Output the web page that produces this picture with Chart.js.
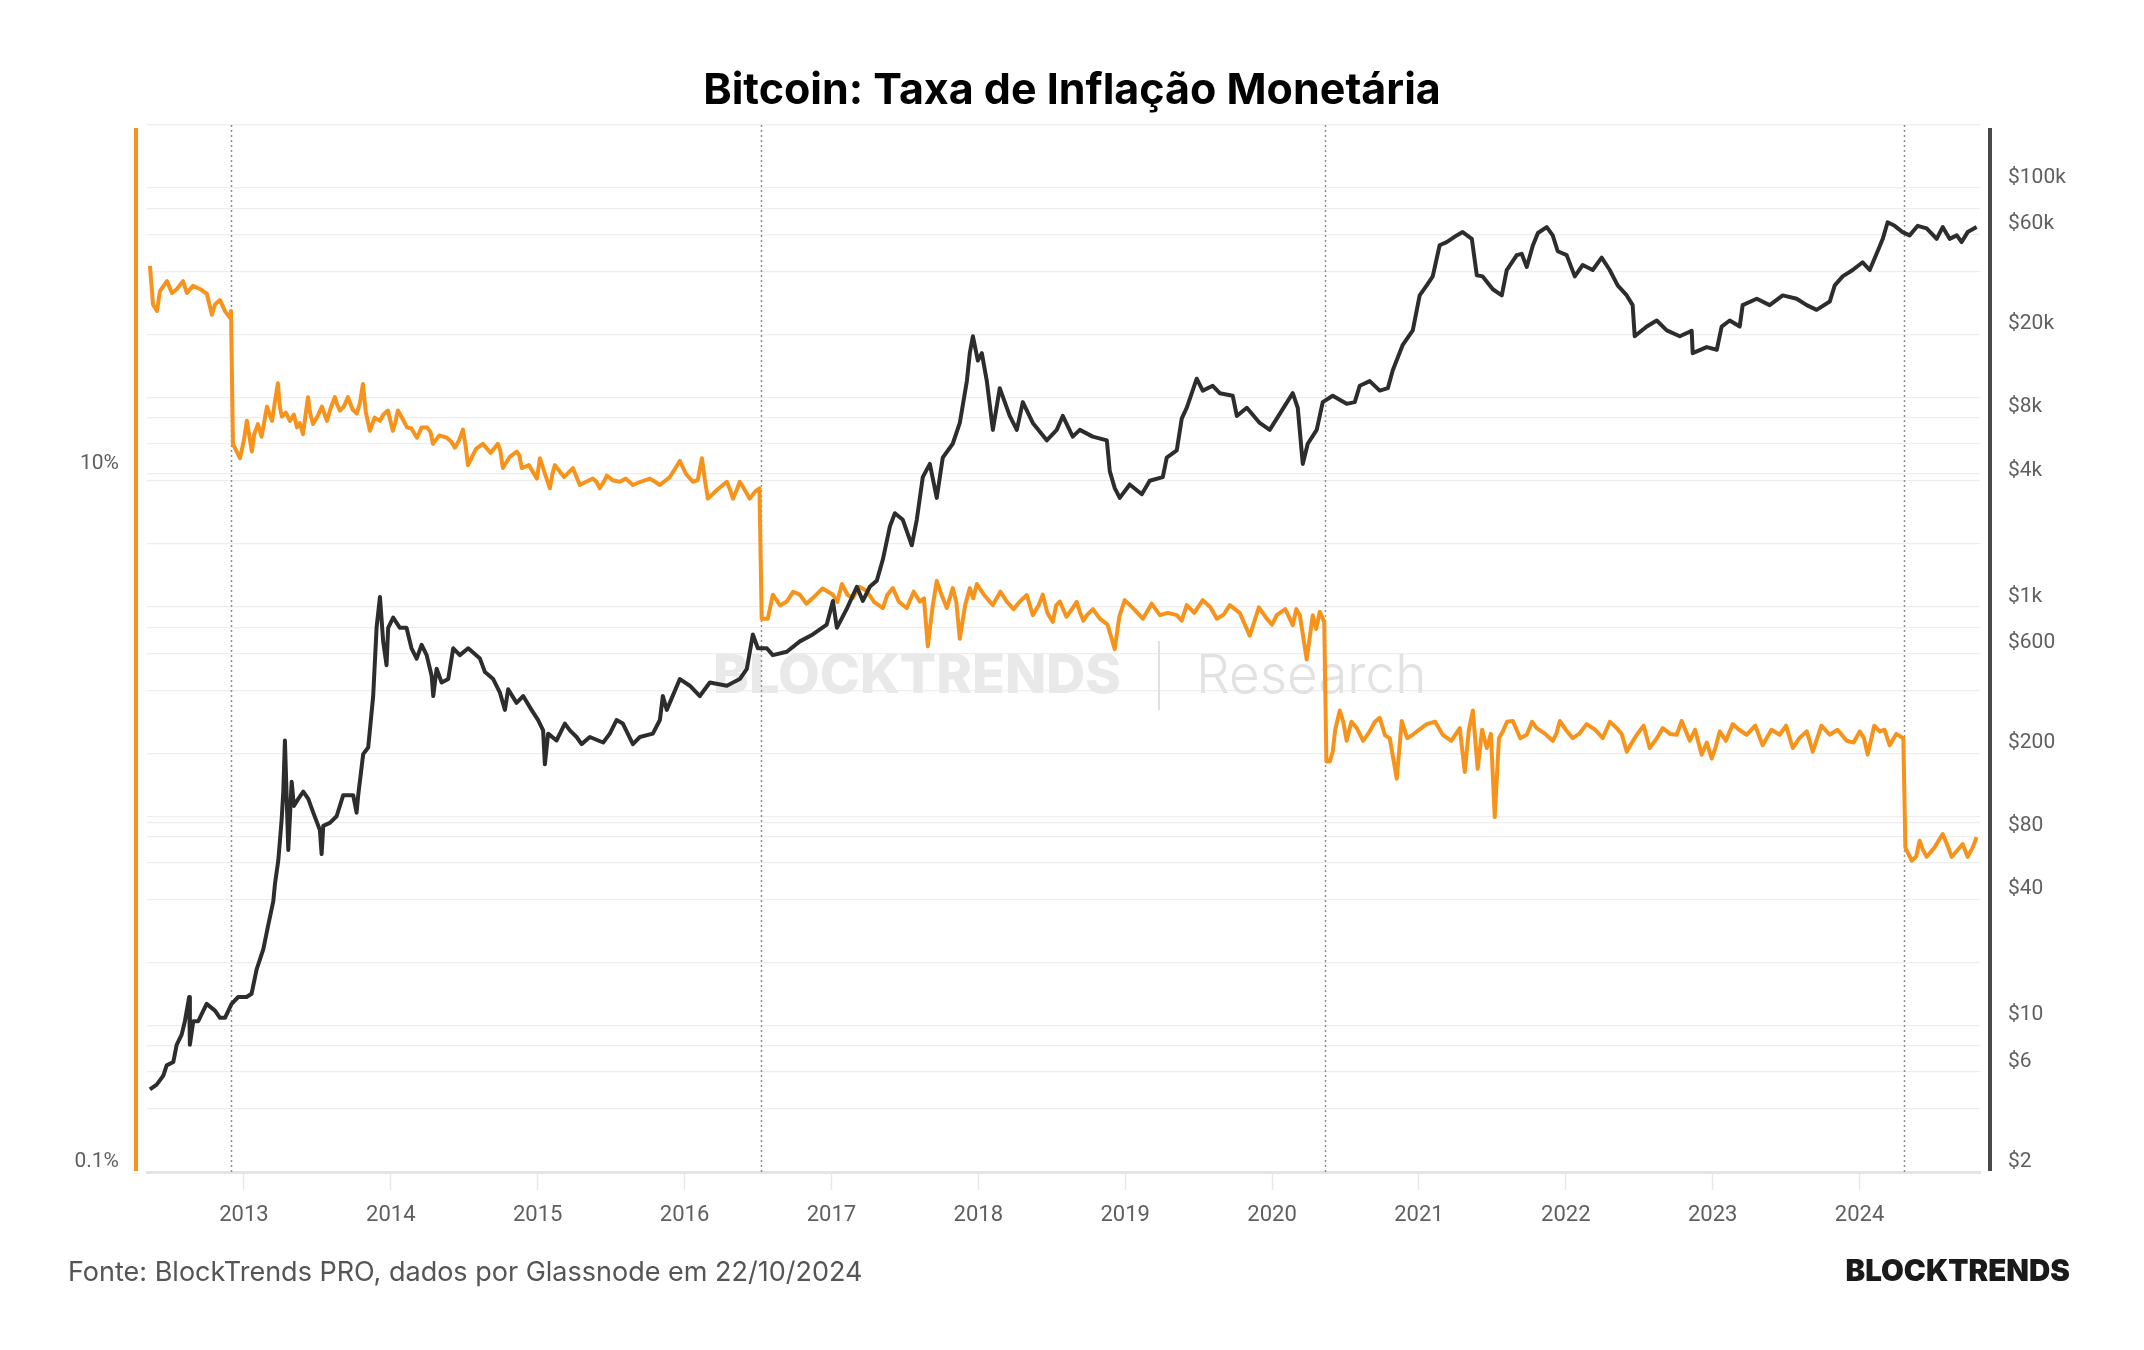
<!DOCTYPE html>
<html>
<head>
<meta charset="utf-8">
<script src="https://cdn.jsdelivr.net/npm/chart.js@4.4.1/dist/chart.umd.min.js"></script>
<style>
html,body{margin:0;padding:0;background:#fff;}
canvas{display:block;}
</style>
</head>
<body>
<canvas id="c" width="2144" height="1350" style="width:2144px;height:1350px"></canvas>
<script>
// ---------- DATA ----------
const chartTitle = 'Bitcoin: Taxa de Inflação Monetária';
const sourceText = 'Fonte: BlockTrends PRO, dados por Glassnode em 22/10/2024';
const brandText = 'BLOCKTRENDS';

// BTC price (USD), dates as decimal years
const priceYears = [
  2012.360, 2012.406, 2012.451, 2012.474, 2012.519, 2012.542, 2012.576, 2012.598, 2012.627, 2012.632, 2012.655, 2012.689, 2012.746, 2012.803, 2012.837, 2012.871, 2012.916, 2012.961,
  2013.018, 2013.052, 2013.086, 2013.132, 2013.165, 2013.200, 2013.211, 2013.234, 2013.257, 2013.268, 2013.279, 2013.302, 2013.325, 2013.340, 2013.370, 2013.404, 2013.438, 2013.472, 2013.517, 2013.529, 2013.540, 2013.585, 2013.631, 2013.676, 2013.744, 2013.767, 2013.778, 2013.812, 2013.846, 2013.880, 2013.903, 2013.926, 2013.948, 2013.971, 2013.982,
  2014.016, 2014.062, 2014.107, 2014.141, 2014.176, 2014.210, 2014.244, 2014.278, 2014.289, 2014.312, 2014.346, 2014.391, 2014.425, 2014.470, 2014.527, 2014.607, 2014.641, 2014.697, 2014.743, 2014.777, 2014.799, 2014.856, 2014.901, 2014.958,
  2015.003, 2015.037, 2015.049, 2015.071, 2015.128, 2015.185, 2015.219, 2015.265, 2015.299, 2015.355, 2015.412, 2015.446, 2015.491, 2015.537, 2015.580, 2015.648, 2015.696, 2015.784, 2015.832, 2015.852, 2015.879, 2015.968,
  2016.036, 2016.104, 2016.172, 2016.288, 2016.376, 2016.424, 2016.465, 2016.499, 2016.560, 2016.601, 2016.696, 2016.785, 2016.873, 2016.968,
  2017.010, 2017.037, 2017.105, 2017.173, 2017.214, 2017.261, 2017.309, 2017.350, 2017.398, 2017.432, 2017.486, 2017.547, 2017.581, 2017.622, 2017.670, 2017.717, 2017.758, 2017.826, 2017.874, 2017.922, 2017.942, 2017.963, 2017.997,
  2018.024, 2018.058, 2018.099, 2018.146, 2018.214, 2018.262, 2018.303, 2018.371, 2018.466, 2018.534, 2018.575, 2018.643, 2018.691, 2018.779, 2018.875, 2018.895, 2018.929, 2018.963,
  2019.031, 2019.113, 2019.167, 2019.256, 2019.283, 2019.351, 2019.385, 2019.419, 2019.487, 2019.528, 2019.596, 2019.644, 2019.732, 2019.760, 2019.828, 2019.916, 2019.984,
  2020.032, 2020.141, 2020.175, 2020.209, 2020.243, 2020.304, 2020.345, 2020.413, 2020.508, 2020.563, 2020.597, 2020.665, 2020.733, 2020.788, 2020.822, 2020.890, 2020.958,
  2021.005, 2021.053, 2021.094, 2021.141, 2021.189, 2021.257, 2021.298, 2021.360, 2021.394, 2021.434, 2021.503, 2021.564, 2021.598, 2021.666, 2021.700, 2021.734, 2021.775, 2021.810, 2021.870, 2021.911, 2021.945,
  2022.006, 2022.061, 2022.115, 2022.183, 2022.244, 2022.299, 2022.353, 2022.415, 2022.455, 2022.469, 2022.551, 2022.619, 2022.687, 2022.776, 2022.857, 2022.864, 2022.959,
  2023.028, 2023.061, 2023.116, 2023.184, 2023.204, 2023.300, 2023.388, 2023.477, 2023.572, 2023.640, 2023.708, 2023.797, 2023.831, 2023.885, 2023.953,
  2024.021, 2024.069, 2024.123, 2024.158, 2024.191, 2024.239, 2024.293, 2024.341, 2024.396, 2024.457, 2024.525, 2024.566, 2024.613, 2024.662, 2024.695, 2024.736, 2024.797
];
const priceValues = [
  4.96, 5.23, 5.77, 6.46, 6.70, 8.09, 9.06, 10.5, 13.7, 8.1, 10.5, 10.5, 12.7, 11.8, 10.9, 10.9, 12.7, 13.7,
  13.7, 14.2, 18.5, 23.2, 30.1, 39.3, 47.3, 61.6, 96.8, 131, 230, 69, 146, 112, 121, 131, 121, 104, 86, 66, 90, 93, 100, 126, 126, 104, 126, 198, 213, 375, 794, 1114, 684, 526, 794,
  889, 794, 794, 634, 566, 659, 588, 469, 375, 506, 435, 452, 634, 588, 634, 566, 488, 452, 389, 322, 404, 348, 375, 322,
  288, 257, 177, 248, 230, 277, 257, 239, 221, 239, 230, 225, 248, 288, 277, 221, 239, 248, 288, 375, 322, 452,
  420, 375, 435, 420, 452, 506, 738, 634, 634, 588, 610, 684, 738, 823,
  1067, 794, 981, 1247, 1067, 1247, 1334, 1682, 2423, 2799, 2603, 1968, 2603, 4164, 4815, 3313, 5162, 6009, 7553, 11970, 16270, 19600, 15000,
  16270, 11970, 7000, 11070, 8160, 7000, 9500, 7553, 6240, 7000, 8160, 6500, 7000, 6500, 6240, 4450, 3690, 3313,
  3840, 3450, 4000, 4164, 5162, 5580, 7920, 8925, 12290, 10780, 11370, 10480, 10190, 8160, 8925, 7553, 7000,
  7920, 10480, 8925, 4815, 6010, 7000, 9500, 10190, 9320, 9500, 11370, 11970, 10780, 11070, 13480, 17840, 20900,
  30700, 34300, 37850, 53300, 55200, 59400, 61600, 57200, 38300, 37850, 32850, 30700, 40600, 47800, 48500, 42000, 53000, 61000, 65100, 59400, 49900,
  47800, 37850, 42900, 40600, 46500, 40600, 34300, 30700, 27600, 19600, 21800, 23300, 20900, 19600, 20800, 16270, 17400,
  16900, 21800, 23300, 21800, 27600, 29600, 27600, 30700, 29600, 27600, 26200, 28700, 34300, 37850, 40600,
  44200, 40600, 49900, 57200, 68600, 66000, 61600, 59400, 66000, 64200, 57200, 65100, 57200, 59400, 55200, 61600, 65100
];

// Monetary inflation rate (% per year): main readings
const inflationYears = [
  2012.360, 2012.381, 2012.408, 2012.428, 2012.476, 2012.510, 2012.544, 2012.585, 2012.612, 2012.653, 2012.700, 2012.748, 2012.782, 2012.803, 2012.837, 2012.871, 2012.905, 2012.912,
  2012.925, 2012.973, 2013.020, 2013.054, 2013.095, 2013.157, 2013.191, 2013.231, 2013.259, 2013.313, 2013.361, 2013.402, 2013.436, 2013.470, 2013.531, 2013.565, 2013.619, 2013.654, 2013.708, 2013.769, 2013.810, 2013.858, 2013.926, 2013.980,
  2014.014, 2014.048, 2014.110, 2014.178, 2014.246, 2014.287, 2014.382, 2014.436, 2014.491, 2014.525, 2014.627, 2014.729, 2014.763, 2014.858, 2014.892, 2014.995,
  2015.015, 2015.083, 2015.117, 2015.240, 2015.287, 2015.376, 2015.423, 2015.471, 2015.559, 2015.648, 2015.764, 2015.832, 2015.968,
  2016.056, 2016.118, 2016.159, 2016.288, 2016.329, 2016.376, 2016.444, 2016.510,
  2016.525, 2016.567, 2016.601, 2016.696, 2016.785, 2016.873, 2017.010, 2017.071, 2017.146, 2017.241, 2017.350, 2017.418, 2017.513, 2017.602, 2017.656, 2017.717, 2017.786, 2017.826, 2017.874, 2017.942, 2017.990,
  2018.099, 2018.194, 2018.283, 2018.371, 2018.439, 2018.507, 2018.555, 2018.643, 2018.691, 2018.739, 2018.827, 2018.929, 2018.997,
  2019.120, 2019.236, 2019.351, 2019.419, 2019.528, 2019.624, 2019.712, 2019.848, 2019.964,
  2020.032, 2020.141, 2020.189, 2020.236, 2020.277, 2020.325, 2020.355,
  2020.370, 2020.393, 2020.413, 2020.461, 2020.508, 2020.577, 2020.665, 2020.733, 2020.801, 2020.849, 2020.883, 2020.958,
  2021.053, 2021.162, 2021.278, 2021.312, 2021.367, 2021.400, 2021.462, 2021.516, 2021.571, 2021.639, 2021.734, 2021.802, 2021.911, 2021.959,
  2022.047, 2022.142, 2022.251, 2022.347, 2022.415, 2022.483, 2022.571, 2022.660, 2022.755, 2022.789, 2022.844, 2022.925, 2022.993,
  2023.048, 2023.136, 2023.231, 2023.340, 2023.456, 2023.545, 2023.640, 2023.681, 2023.797, 2023.912,
  2024.001, 2024.055, 2024.137, 2024.205, 2024.298,
  2024.312, 2024.355, 2024.409, 2024.457, 2024.566, 2024.627, 2024.702, 2024.736, 2024.797
];
const inflationValues = [
  39.5, 30.6, 29.3, 33.4, 35.7, 33.0, 33.9, 35.7, 33.0, 34.6, 33.9, 32.8, 28.6, 30.6, 31.5, 29.3, 28.0, 29.3,
  12.2, 11.1, 14.2, 11.6, 13.9, 15.6, 14.2, 18.2, 14.6, 14.2, 13.6, 13.0, 16.6, 13.9, 15.6, 14.2, 16.6, 15.2, 16.6, 14.9, 18.1, 13.3, 14.2, 15.2,
  13.3, 15.2, 13.6, 12.7, 13.6, 12.2, 12.7, 11.9, 13.4, 10.6, 12.2, 12.2, 10.4, 11.6, 10.4, 9.7,
  11.1, 9.1, 10.6, 10.4, 9.3, 9.7, 9.1, 9.9, 9.5, 9.3, 9.7, 9.3, 10.9,
  9.5, 11.1, 8.5, 9.5, 8.5, 9.5, 8.5, 9.1,
  3.85, 3.85, 4.51, 4.31, 4.51, 4.41, 4.51, 4.84, 4.41, 4.62, 4.13, 4.71, 4.13, 4.31, 3.21, 4.94, 4.13, 4.71, 3.37, 4.71, 4.84,
  4.21, 4.31, 4.31, 3.94, 4.51, 3.77, 4.31, 4.13, 4.03, 3.94, 3.85, 3.15, 4.35,
  3.85, 3.94, 3.94, 4.21, 4.35, 3.85, 4.21, 3.44, 3.85,
  3.94, 3.69, 3.94, 2.94, 3.94, 4.03, 3.77,
  1.50, 1.50, 1.60, 2.10, 1.72, 1.87, 1.83, 2.00, 1.75, 1.34, 1.96, 1.79,
  1.92, 1.79, 1.87, 1.40, 2.10, 1.43, 1.64, 1.04, 1.83, 1.96, 1.79, 1.87, 1.72, 1.96,
  1.75, 1.92, 1.75, 1.87, 1.60, 1.79, 1.64, 1.87, 1.79, 1.96, 1.72, 1.57, 1.53,
  1.83, 1.92, 1.79, 1.67, 1.79, 1.64, 1.83, 1.60, 1.79, 1.72,
  1.83, 1.57, 1.83, 1.67, 1.75,
  0.85, 0.78, 0.89, 0.80, 0.93, 0.80, 0.87, 0.80, 0.91
];

// Monetary inflation rate: smaller wiggles read between the main readings
const inflationDetailYears = [
  2013.000, 2013.070, 2013.120, 2013.175, 2013.210, 2013.245, 2013.285, 2013.340, 2013.380, 2013.420, 2013.450, 2013.500, 2013.550, 2013.590, 2013.635, 2013.680, 2013.740, 2013.790, 2013.830, 2013.890, 2013.950,
  2014.030, 2014.080, 2014.140, 2014.210, 2014.270, 2014.330, 2014.410, 2014.465, 2014.510, 2014.580, 2014.680, 2014.745, 2014.810, 2014.875, 2014.940,
  2015.050, 2015.100, 2015.180, 2015.260, 2015.330, 2015.400, 2015.450, 2015.510, 2015.600, 2015.700, 2015.800, 2015.900,
  2016.010, 2016.090, 2016.140, 2016.220, 2016.310, 2016.355, 2016.410, 2016.480,
  2016.650, 2016.740, 2016.830, 2016.940, 2017.040, 2017.110, 2017.190, 2017.290, 2017.380, 2017.460, 2017.560, 2017.630, 2017.690, 2017.750, 2017.850, 2017.910, 2017.965,
  2018.040, 2018.150, 2018.240, 2018.330, 2018.410, 2018.470, 2018.530, 2018.600, 2018.670, 2018.715, 2018.780, 2018.880, 2018.960,
  2019.060, 2019.180, 2019.290, 2019.385, 2019.470, 2019.580, 2019.670, 2019.780, 2019.910, 2020.000, 2020.090, 2020.165, 2020.300,
  2020.430, 2020.485, 2020.540, 2020.620, 2020.700, 2020.770, 2020.920, 2021.000, 2021.110, 2021.220, 2021.340, 2021.430, 2021.490, 2021.545, 2021.600, 2021.690, 2021.770, 2021.860, 2021.935,
  2022.000, 2022.090, 2022.200, 2022.300, 2022.380, 2022.450, 2022.530, 2022.620, 2022.710, 2022.880, 2022.960,
  2023.020, 2023.090, 2023.180, 2023.290, 2023.400, 2023.500, 2023.590, 2023.660, 2023.740, 2023.850, 2023.960,
  2024.030, 2024.100, 2024.170, 2024.250,
  2024.330, 2024.385, 2024.430, 2024.510, 2024.600, 2024.660, 2024.770
];
const inflationDetailValues = [
  12.5, 13.0, 12.8, 14.8, 16.0, 15.5, 15.0, 14.8, 14.0, 14.8, 15.0, 14.6, 14.8, 15.4, 15.8, 15.6, 15.3, 16.0, 15.0, 14.5, 14.8,
  14.0, 14.4, 13.5, 13.6, 13.2, 12.9, 12.4, 12.5, 12.0, 11.8, 11.5, 11.7, 11.2, 11.3, 10.6,
  10.0, 10.0, 9.8, 9.9, 9.5, 9.5, 9.5, 9.6, 9.7, 9.5, 9.5, 9.8,
  10.0, 9.6, 9.5, 9.0, 9.0, 9.0, 9.0, 8.9,
  4.20, 4.60, 4.25, 4.70, 4.30, 4.50, 4.75, 4.30, 4.50, 4.30, 4.60, 4.40, 4.20, 4.50, 4.30, 4.20, 4.40,
  4.50, 4.60, 4.10, 4.50, 4.20, 4.00, 4.20, 3.90, 4.30, 3.80, 4.10, 3.70, 3.90,
  4.10, 4.25, 4.00, 3.80, 4.00, 4.15, 3.95, 4.00, 4.15, 3.70, 4.10, 4.10, 3.60,
  1.85, 1.95, 1.95, 1.72, 1.95, 1.78, 1.75, 1.85, 1.95, 1.72, 1.85, 1.85, 1.80, 1.75, 1.95, 1.75, 1.95, 1.80, 1.80,
  1.85, 1.80, 1.85, 1.95, 1.80, 1.70, 1.90, 1.75, 1.80, 1.85, 1.70,
  1.65, 1.72, 1.85, 1.90, 1.85, 1.90, 1.75, 1.72, 1.90, 1.85, 1.70,
  1.75, 1.90, 1.85, 1.80,
  0.82, 0.80, 0.84, 0.85, 0.86, 0.83, 0.85
];

// Halving dates (decimal years)
const halvingYears = [2012.912, 2016.518, 2020.361, 2024.301];

// Axis ticks
const xTickYears = [2013, 2014, 2015, 2016, 2017, 2018, 2019, 2020, 2021, 2022, 2023, 2024];
const xRange = [2012.34, 2024.82];
const inflationGridValues = [0.1, 1, 10, 100];
const inflationLabelValues = [0.1, 10];
const inflationRange = [0.1, 100];
const priceGridValues = [2, 4, 6, 8, 10, 20, 40, 60, 80, 100, 200, 400, 600, 800, 1000, 2000, 4000, 6000, 8000, 10000, 20000, 40000, 60000, 80000, 100000, 200000];
const priceLabelValues = [2, 6, 10, 40, 80, 200, 600, 1000, 4000, 8000, 20000, 60000, 100000];
const priceRange = [2, 200000];

// ---------- CHART ----------
const ORANGE = '#f7931a';
const DARK = '#2d2d2d';

function fmtPrice(v) {
  return v >= 1000 ? '$' + (v / 1000) + 'k' : '$' + v;
}

function toPoints(xs, ys) {
  return xs.map((x, i) => ({ x, y: ys[i] }));
}

const inflationPoints = toPoints(inflationYears, inflationValues)
  .concat(toPoints(inflationDetailYears, inflationDetailValues))
  .sort((a, b) => a.x - b.x);

const decor = {
  id: 'decor',
  beforeDatasetsDraw(chart) {
    const { ctx, chartArea: a, scales: { x } } = chart;
    ctx.save();
    // watermark
    ctx.textBaseline = 'alphabetic';
    ctx.font = '800 54px Inter';
    ctx.fillStyle = '#e9e9e9';
    ctx.textAlign = 'right';
    ctx.fillText('BLOCKTRENDS', 1121, 693);
    ctx.fillStyle = '#e0e0e0';
    ctx.fillRect(1158, 641, 2, 69);
    ctx.font = '300 53px Inter';
    ctx.fillStyle = '#e2e2e2';
    ctx.textAlign = 'left';
    ctx.fillText('Research', 1196, 693);
    // halving lines
    ctx.setLineDash([2, 3]);
    ctx.strokeStyle = '#8e8e8e';
    ctx.lineWidth = 1.5;
    halvingYears.forEach(h => {
      const px = Math.round(x.getPixelForValue(h)) + 0.5;
      ctx.beginPath();
      ctx.moveTo(px, a.top);
      ctx.lineTo(px, a.bottom);
      ctx.stroke();
    });
    ctx.restore();
  },
  afterDraw(chart) {
    const { ctx, chartArea: a } = chart;
    ctx.save();
    // axis colour bars
    ctx.fillStyle = ORANGE;
    ctx.fillRect(a.left - 13, a.top + 3, 4, a.bottom - a.top - 4);
    ctx.fillStyle = '#4a4a4a';
    ctx.fillRect(a.right + 8, a.top + 3, 4, a.bottom - a.top - 4);
    // title
    ctx.textBaseline = 'alphabetic';
    ctx.fillStyle = '#000';
    ctx.textAlign = 'center';
    ctx.font = '700 43px Inter';
    ctx.fillText(chartTitle, 1072, 104);
    // footer
    ctx.textAlign = 'left';
    ctx.fillStyle = '#555';
    ctx.font = '400 27px Inter';
    ctx.fillText(sourceText, 68, 1281);
    // brand
    ctx.textAlign = 'right';
    ctx.fillStyle = '#1a1a1a';
    ctx.font = '900 29.5px Inter';
    ctx.fillText(brandText, 2070, 1281);
    ctx.restore();
  }
};

function build() {
  Chart.defaults.font.family = 'Inter';
  new Chart(document.getElementById('c'), {
    type: 'line',
    data: {
      datasets: [
        {
          label: 'Preço BTC',
          data: toPoints(priceYears, priceValues),
          yAxisID: 'yPrice',
          borderColor: DARK,
          borderWidth: 4,
          pointRadius: 0,
          tension: 0,
          borderJoinStyle: 'round',
          order: 1
        },
        {
          label: 'Taxa de Inflação',
          data: inflationPoints,
          yAxisID: 'yInfl',
          borderColor: ORANGE,
          borderWidth: 4,
          pointRadius: 0,
          tension: 0,
          borderJoinStyle: 'round',
          order: 2
        }
      ]
    },
    options: {
      responsive: false,
      animation: false,
      devicePixelRatio: 1,
      layout: { padding: { top: 125, bottom: 118, left: 0, right: 0 } },
      plugins: { legend: { display: false }, tooltip: { enabled: false }, title: { display: false } },
      scales: {
        x: {
          type: 'linear',
          min: xRange[0],
          max: xRange[1],
          afterBuildTicks: s => { s.ticks = xTickYears.map(v => ({ value: v })); },
          afterFit: s => { s.height = 60; },
          ticks: {
            callback: v => String(v),
            color: '#5f5f5f',
            font: { family: 'Roboto', size: 22 },
            padding: 12,
            maxRotation: 0,
            autoSkip: false
          },
          grid: {
            drawOnChartArea: false,
            drawTicks: true,
            tickLength: 18,
            tickColor: '#e8e8e8',
            tickWidth: 1.5
          },
          border: { display: true, color: '#e4e4e4', width: 3 }
        },
        yInfl: {
          type: 'logarithmic',
          position: 'left',
          min: inflationRange[0],
          max: inflationRange[1],
          afterBuildTicks: s => { s.ticks = inflationGridValues.map(v => ({ value: v })); },
          afterFit: s => { s.width = 147; },
          ticks: {
            callback: v => inflationLabelValues.includes(v) ? (v + '%') : '',
            color: '#5f5f5f',
            font: { family: 'Roboto', size: 21 },
            padding: 28,
            labelOffset: -10.5,
            autoSkip: false
          },
          grid: { color: '#eeeeee', lineWidth: 1.2, drawTicks: false },
          border: { display: false }
        },
        yPrice: {
          type: 'logarithmic',
          position: 'right',
          min: priceRange[0],
          max: priceRange[1],
          afterBuildTicks: s => { s.ticks = priceGridValues.map(v => ({ value: v })); },
          afterFit: s => { s.width = 164; },
          ticks: {
            callback: v => priceLabelValues.includes(v) ? fmtPrice(v) : '',
            color: '#5f5f5f',
            font: { family: 'Roboto', size: 21 },
            padding: 28,
            labelOffset: -10.5,
            autoSkip: false
          },
          grid: { color: '#eeeeee', lineWidth: 1.2, drawTicks: false },
          border: { display: false }
        }
      }
    },
    plugins: [decor]
  });
}

const fontSpecs = ['400 20px Inter', '700 43px Inter', '800 54px Inter', '900 29.5px Inter', '300 53px Inter', '400 21px Roboto', '400 22px Roboto'];
Promise.all(fontSpecs.map(f => document.fonts.load(f).catch(() => null))).then(build, build);
</script>
</body>
</html>
